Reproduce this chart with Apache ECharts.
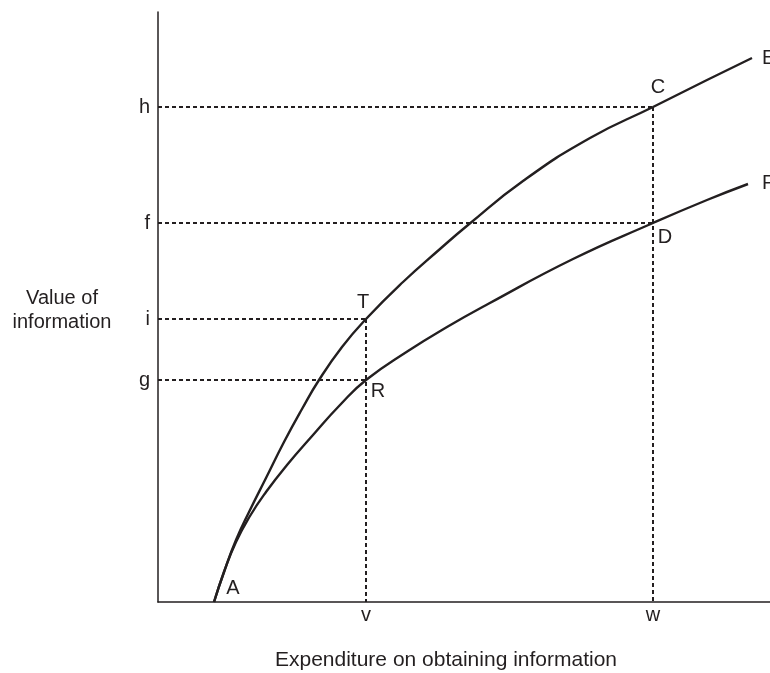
<!DOCTYPE html>
<html>
<head>
<meta charset="utf-8">
<script src="https://cdn.jsdelivr.net/npm/echarts@6/dist/echarts.min.js"></script>
<style>html,body{margin:0;padding:0;background:#fff}#c{width:770px;height:673px}</style>
</head>
<body>
<div id="c"></div>
<script>
// Curve data (x = expenditure, y = value)
const curveE = [[56,0],[66,30],[78,62],[92,92],[108,124],[126,160],[144,193],[161,222],[184,255],[208,283],[245,320],[282,353],[310,377],[365,421],[432,464],[495,495],[549,522],[594,544]];
const curveF = [[56,0],[66,30],[78,60],[92,86],[108,110],[129,137],[155,167],[182,197],[208,222],[250,251],[289,275],[330,298],[415,343],[495,379],[549,402],[590,418]];
// Tick positions and their letters
const xTickValues = [208, 495];
const xTickNames = ['v', 'w'];
const yTickValues = [222, 283, 379, 495];
const yTickNames = ['g', 'i', 'f', 'h'];
// Guide segments (dotted)
const guides = [
  [[0,495],[495,495]],
  [[0,379],[495,379]],
  [[0,283],[208,283]],
  [[0,222],[208,222]],
  [[208,283],[208,0]],
  [[495,495],[495,0]]
];
// Named points
const pointNames = ['A','T','R','C','D','E','F'];
const pointValues = [[56,0],[208,283],[208,222],[495,495],[495,379],[594,544],[590,418]];

const font = 'Liberation Sans, Arial, Helvetica, sans-serif';
const ink = '#231f20';
const FS = 20;
// label placement relative to each point (style only)
const labelStyle = {
  A:{dx:19, dy:-14, align:'center'},
  T:{dx:-3, dy:-17, align:'center'},
  R:{dx:12, dy:11, align:'center'},
  C:{dx:5, dy:-20, align:'center'},
  D:{dx:12, dy:14, align:'center'},
  E:{dx:10, dy:0, align:'left'},
  F:{dx:14, dy:-1, align:'left'}
};

const chart = echarts.init(document.getElementById('c'), null, {renderer:'canvas'});
const series = [
  {type:'line', data:curveE, smooth:0.5, symbol:'none', lineStyle:{color:ink, width:2.4}, z:5, silent:true},
  {type:'line', data:curveF, smooth:0.5, symbol:'none', lineStyle:{color:ink, width:2.4}, z:5, silent:true}
];
guides.forEach(g => series.push({type:'line', data:g, symbol:'none', lineStyle:{color:ink, width:2, type:[4,3]}, z:3, silent:true}));

chart.setOption({
  animation:false,
  backgroundColor:'#fff',
  grid:{left:158, right:0, top:12, bottom:71},
  xAxis:{type:'value', min:0, max:612,
    axisLine:{show:true, onZero:false, lineStyle:{color:ink, width:1.5}},
    axisTick:{show:false}, splitLine:{show:false},
    axisLabel:{customValues:xTickValues, formatter:v => xTickNames[xTickValues.indexOf(v)] || '', color:ink, fontSize:FS, fontFamily:font, margin:3}
  },
  yAxis:{type:'value', min:0, max:590,
    axisLine:{show:true, onZero:false, lineStyle:{color:ink, width:1.5}},
    axisTick:{show:false}, splitLine:{show:false},
    axisLabel:{customValues:yTickValues, formatter:v => yTickNames[yTickValues.indexOf(v)] || '', color:ink, fontSize:FS, fontFamily:font, margin:8}
  },
  series:series
});

const graphics = [
  {type:'text', x:62, y:310, z:20, style:{text:'Value of\ninformation', align:'center', verticalAlign:'middle', fill:ink, fontSize:FS, fontFamily:font, lineHeight:24}},
  {type:'text', x:446, y:660, z:20, style:{text:'Expenditure on obtaining information', align:'center', verticalAlign:'middle', fill:ink, fontSize:21, fontFamily:font}}
];
pointNames.forEach((n, i) => {
  const p = chart.convertToPixel({gridIndex:0}, pointValues[i]);
  const s = labelStyle[n];
  graphics.push({type:'text', x:p[0] + s.dx, y:p[1] + s.dy, z:20,
    style:{text:n, align:s.align, verticalAlign:'middle', fill:ink, fontSize:FS, fontFamily:font}});
});
chart.setOption({graphic:graphics});
</script>
</body>
</html>
